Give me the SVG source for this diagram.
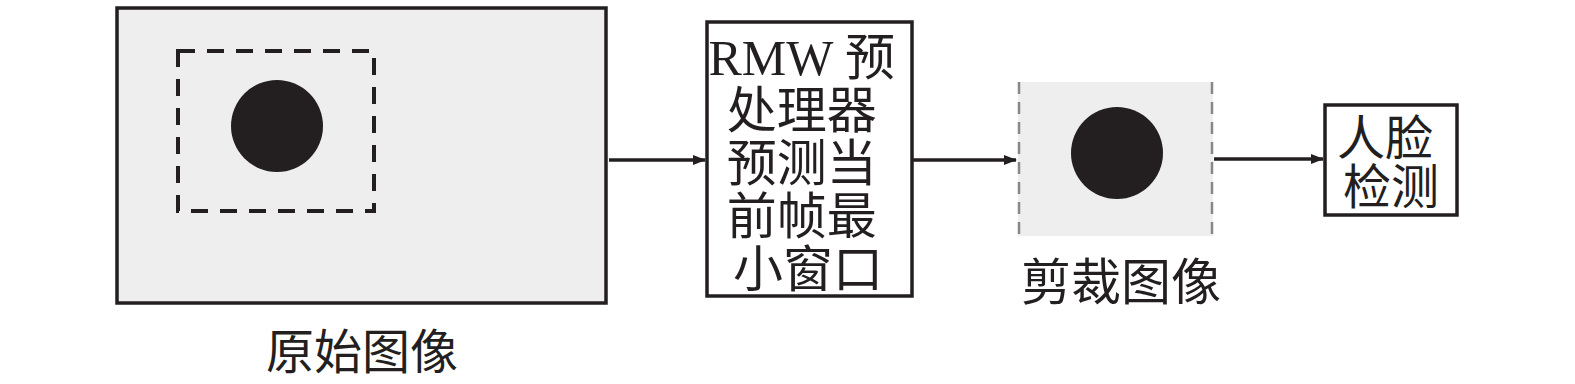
<svg xmlns="http://www.w3.org/2000/svg" width="1575" height="384" viewBox="0 0 1575 384">
<defs>
<marker id="ah" markerWidth="13" markerHeight="10" refX="12" refY="5" orient="auto" markerUnits="userSpaceOnUse">
<path d="M0,0 L13,5 L0,10 Z" fill="#231f20"/>
</marker>
</defs>
<style>
.box{fill:#ffffff;stroke:#231f20;stroke-width:3.5}
.img{fill:#eeeeee}
.cjk{font-family:"Liberation Serif","Noto Sans CJK SC",serif;fill:#231f20}
.conn{stroke:#231f20;stroke-width:3.5;fill:none}
.cut{stroke:#888888;stroke-width:2.5;stroke-dasharray:12,8}
</style>
<rect width="1575" height="384" fill="#ffffff"/>
<g id="original">
<rect x="117" y="8" width="489" height="295" fill="#eeeeee" stroke="#231f20" stroke-width="3.5"/>
<rect x="178" y="51" width="196" height="160" fill="none" stroke="#231f20" stroke-width="4" stroke-dasharray="17,12"/>
<circle cx="277" cy="126" r="46" fill="#231f20"/>
<text class="cjk" x="362" y="369" font-size="48" text-anchor="middle">原始图像</text>
</g>
<g id="rmw">
<rect class="box" x="707" y="22" width="205" height="274"/>
<text class="cjk" font-size="50" text-anchor="middle">
<tspan x="808" y="75">RMW 预</tspan>
<tspan x="808" y="128">处理器</tspan>
<tspan x="808" y="181">预测当</tspan>
<tspan x="808" y="234">前帧最</tspan>
<tspan x="808" y="287">小窗口</tspan>
</text>
</g>
<g id="cropped">
<rect class="img" x="1018" y="82" width="195" height="154"/>
<line class="cut" x1="1019" y1="82" x2="1019" y2="236"/>
<line class="cut" x1="1212" y1="82" x2="1212" y2="236"/>
<circle cx="1117" cy="153" r="46" fill="#231f20"/>
<text class="cjk" x="1121" y="300" font-size="50" text-anchor="middle">剪裁图像</text>
</g>
<g id="face">
<rect class="box" x="1325" y="105" width="132" height="110"/>
<text class="cjk" font-size="48" text-anchor="middle">
<tspan x="1391" y="155">人脸</tspan>
<tspan x="1391" y="204">检测</tspan>
</text>
</g>
<g id="connectors">
<line class="conn" x1="609" y1="160" x2="705" y2="160" marker-end="url(#ah)"/>
<line class="conn" x1="913" y1="160" x2="1016" y2="160" marker-end="url(#ah)"/>
<line class="conn" x1="1214" y1="159" x2="1323" y2="159" marker-end="url(#ah)"/>
</g>
</svg>
